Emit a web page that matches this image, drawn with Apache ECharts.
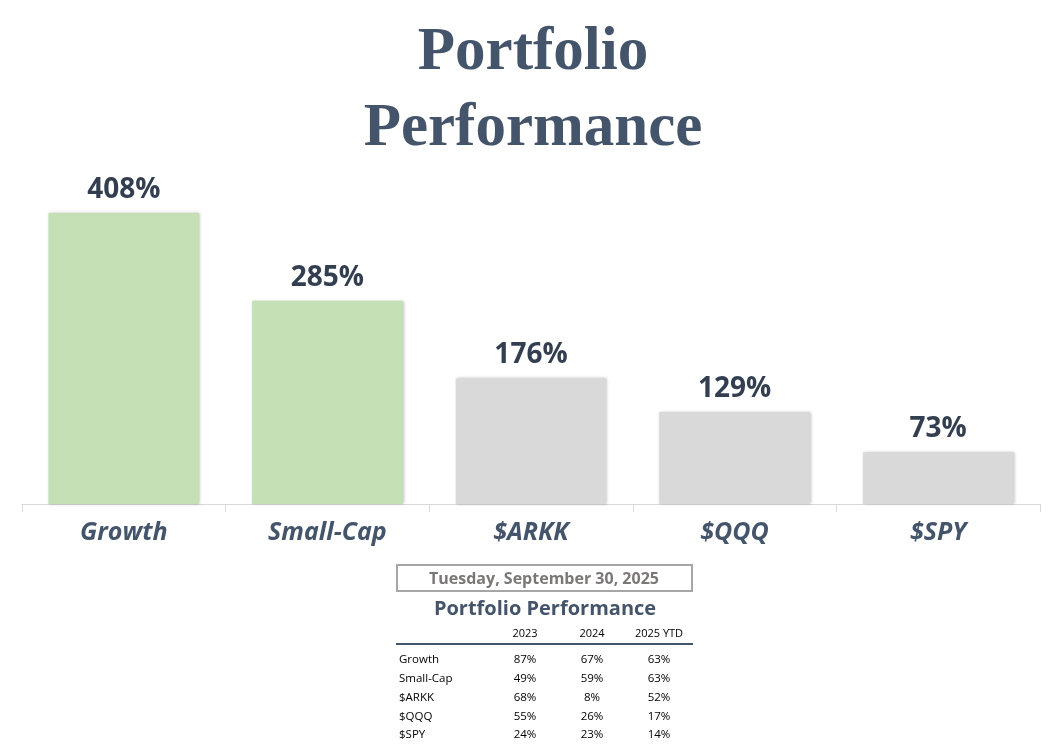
<!DOCTYPE html>
<html>
<head>
<meta charset="utf-8">
<script src="https://cdn.jsdelivr.net/npm/echarts@6/dist/echarts.min.js"></script>
<style>
html,body{margin:0;padding:0;background:#fff;}
#chart{width:1059px;height:746px;}
</style>
</head>
<body>
<div id="chart"></div>
<script>
var categories = ['Growth', 'Small-Cap', '$ARKK', '$QQQ', '$SPY'];
var totalReturn = [408, 285, 176, 129, 73];
var barColors = ['#C5E0B4', '#C5E0B4', '#D9D9D9', '#D9D9D9', '#D9D9D9'];
var dateText = 'Tuesday, September 30, 2025';
var tableTitle = 'Portfolio Performance';
var years = ['2023', '2024', '2025 YTD'];
var ret2023 = [87, 49, 68, 55, 24];
var ret2024 = [67, 59, 8, 26, 23];
var ret2025 = [63, 63, 52, 17, 14];

var chart = echarts.init(document.getElementById('chart'));

var sans = '"Open Sans", "Noto Sans", sans-serif';
var colX = [525, 592, 659];
var rowY = [660, 679, 698, 717, 735];
var yearData = [ret2023, ret2024, ret2025];

var graphics = [
  { type: 'rect', shape: { x: 397, y: 565, width: 295, height: 26 },
    style: { fill: '#fff', stroke: '#A6A6A6', lineWidth: 2 } },
  { type: 'text', x: 544, y: 579,
    style: { text: dateText, fill: '#7B7777', font: 'bold 16px ' + sans, textAlign: 'center', textVerticalAlign: 'middle' } },
  { type: 'text', x: 545, y: 609,
    style: { text: tableTitle, fill: '#44546A', font: 'bold 20px ' + sans, textAlign: 'center', textVerticalAlign: 'middle' } },
  { type: 'line', shape: { x1: 396, y1: 644, x2: 693, y2: 644 },
    style: { stroke: '#44546A', lineWidth: 2 } }
];
years.forEach(function (yr, j) {
  graphics.push({ type: 'text', x: colX[j], y: 634,
    style: { text: yr, fill: '#000', font: '11px ' + sans, textAlign: 'center', textVerticalAlign: 'middle' } });
});
categories.forEach(function (name, i) {
  graphics.push({ type: 'text', x: 399, y: rowY[i],
    style: { text: name, fill: '#000', font: '11.5px ' + sans, textAlign: 'left', textVerticalAlign: 'middle' } });
  yearData.forEach(function (arr, j) {
    graphics.push({ type: 'text', x: colX[j], y: rowY[i],
      style: { text: arr[i] + '%', fill: '#000', font: '11.5px ' + sans, textAlign: 'center', textVerticalAlign: 'middle' } });
  });
});

chart.setOption({
  animation: false,
  backgroundColor: '#fff',
  title: {
    text: 'Portfolio\nPerformance',
    left: 528,
    textAlign: 'center',
    top: 10,
    textStyle: {
      fontFamily: '"Liberation Serif", "DejaVu Serif", serif',
      fontWeight: 'bold',
      fontSize: 61,
      lineHeight: 76,
      color: '#44546A'
    }
  },
  grid: { left: 22, right: 19, top: 213, bottom: 242, containLabel: false },
  xAxis: {
    type: 'category',
    data: categories,
    axisLine: { lineStyle: { color: '#D9D9D9', width: 1 } },
    axisTick: { show: true, length: 8, lineStyle: { color: '#D9D9D9' } },
    axisLabel: {
      margin: 16,
      color: '#44546A',
      fontFamily: sans,
      fontSize: 25,
      fontWeight: 'bold',
      fontStyle: 'italic'
    }
  },
  yAxis: {
    type: 'value', min: 0, max: 408, show: false,
    splitLine: { show: false }
  },
  series: [{
    type: 'bar',
    barWidth: '74%',
    data: totalReturn.map(function (v, i) {
      return { value: v, itemStyle: { color: barColors[i] } };
    }),
    itemStyle: {
      shadowBlur: 3,
      shadowColor: 'rgba(0,0,0,0.25)',
      shadowOffsetX: 1,
      shadowOffsetY: 0
    },
    label: {
      show: true,
      position: 'top',
      distance: 9,
      formatter: '{c}%',
      color: '#333F50',
      fontFamily: sans,
      fontSize: 28,
      fontWeight: 'bold'
    }
  }],
  graphic: graphics
});
</script>
</body>
</html>
